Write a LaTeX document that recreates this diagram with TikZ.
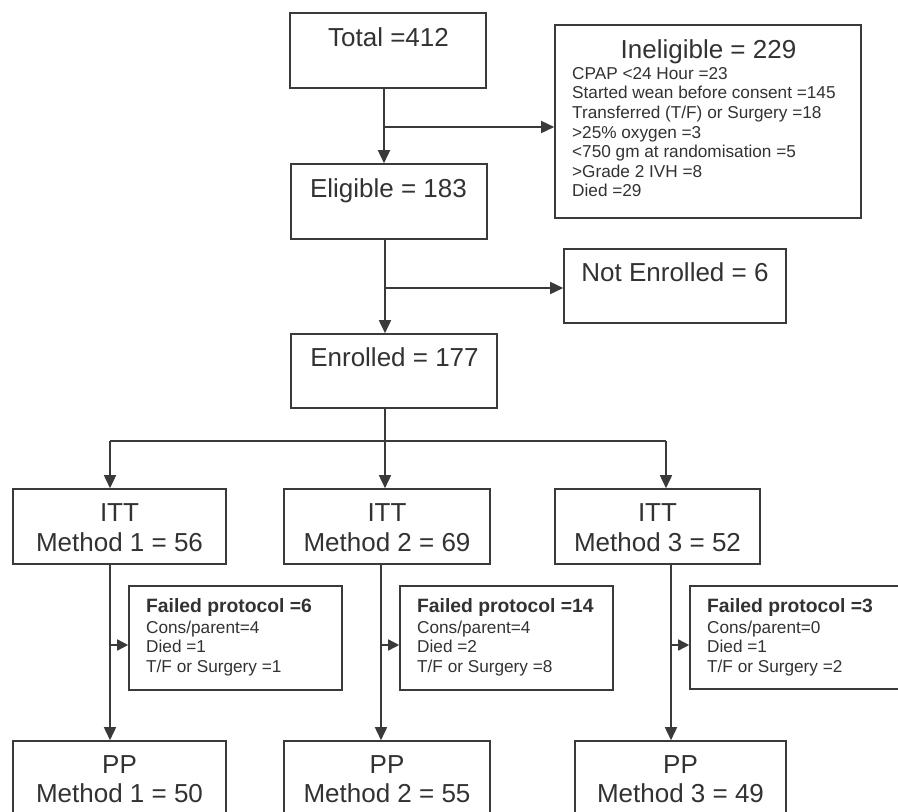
\documentclass[tikz,border=0pt]{standalone}
\usepackage{fontspec}
\setmainfont{Liberation Sans}
\usetikzlibrary{arrows.meta,calc,fit}
\definecolor{ink}{RGB}{50,50,50}
\definecolor{edge}{RGB}{58,58,58}
\begin{document}
\begin{tikzpicture}[x=1pt,y=-1pt,
  box/.style={draw=edge, line width=1.6pt, rectangle, inner sep=0pt},
  big/.style={text=ink, font=\fontsize{26}{30}\selectfont, inner sep=0pt, anchor=base},
  small/.style={text=ink, font=\fontsize{17.2}{20}\selectfont, inner sep=0pt, anchor=base west},
  boldtxt/.style={text=ink, font=\fontsize{19.3}{22}\selectfont\bfseries, inner sep=0pt, anchor=base west},
  conn/.style={draw=edge, line width=1.6pt},
  arr/.style={conn, -{Triangle[length=13pt,width=12pt]}},
  sidearr/.style={conn, -{Triangle[length=11pt,width=11pt]}}]
\useasboundingbox (0,0) rectangle (898,812);
\clip (0,0) rectangle (898,812);
\fill[white] (0,0) rectangle (898,812);

% boxes
\node[box, fit={(290,13) (486,88)}] (total) {};
\node[box, fit={(291,164) (487,239)}] (elig) {};
\node[box, fit={(555,25) (861,218)}] (inel) {};
\node[box, fit={(564,249) (786,323)}] (noten) {};
\node[box, fit={(291,334) (497,408)}] (enr) {};
\node[box, fit={(13,489) (226,564)}] (itt1) {};
\node[box, fit={(284,489) (490,564)}] (itt2) {};
\node[box, fit={(555,489) (760,564)}] (itt3) {};
\node[box, fit={(129,586) (342,690)}] (fail1) {};
\node[box, fit={(400,586) (613,690)}] (fail2) {};
\node[box, fit={(690,586) (915,689)}] (fail3) {};
\node[box, fit={(13,741) (226,830)}] (pp1) {};
\node[box, fit={(284,741) (490,830)}] (pp2) {};
\node[box, fit={(575,741) (786,830)}] (pp3) {};

% big texts
\node[big] (ttot) at (388.5,46) {Total =412};
\node[big] (telig) at (388.5,197) {Eligible = 183};
\node[big] (tinel) at (708.5,58.3) {Ineligible = 229};
\node[big] (tnoten) at (675,281) {Not Enrolled = 6};
\node[big] (tenr) at (394.5,366.7) {Enrolled = 177};
\node[big] (titt1a) at (119.5,521.7) {ITT};
\node[big] (titt1b) at (119.5,551.7) {Method 1 = 56};
\node[big] (titt2a) at (387,521.7) {ITT};
\node[big] (titt2b) at (387,551.7) {Method 2 = 69};
\node[big] (titt3a) at (657.5,521.7) {ITT};
\node[big] (titt3b) at (657.5,551.7) {Method 3 = 52};
\node[big] (tpp1a) at (119.5,773) {PP};
\node[big] (tpp1b) at (119.5,802) {Method 1 = 50};
\node[big] (tpp2a) at (387,773) {PP};
\node[big] (tpp2b) at (387,802) {Method 2 = 55};
\node[big] (tpp3a) at (680.5,773) {PP};
\node[big] (tpp3b) at (680.5,802) {Method 3 = 49};

% ineligible list
\foreach \t [count=\i] in {CPAP <24 Hour =23, Started wean before consent =145,
  Transferred (T/F) or Surgery =18, >25\% oxygen =3, <750 gm at randomisation =5,
  >Grade 2 IVH =8, Died =29}
  \node[small] (inl\i) at (572,{79.3+19.57*(\i-1)}) {\t};

% failed protocol texts
\foreach \x/\n/\a/\b/\c/\k in {146/6/4/1/1/1, 417/14/4/2/8/2, 707/3/0/1/2/3}{
  \node[boldtxt] (fh\k) at (\x,612.7) {Failed protocol =\n};
  \node[small] (fa\k) at (\x,633.3) {Cons/parent=\a};
  \node[small] (fb\k) at (\x,652.7) {Died =\b};
  \node[small] (fc\k) at (\x,672.3) {T/F or Surgery =\c};
}

% connectors
\coordinate (j1) at (384,127);
\draw[arr] (total.south -| j1) -- (elig.north -| j1);
\draw[arr] (j1) -- (inel.west |- j1);
\coordinate (j2) at (385,288);
\draw[arr] (elig.south -| j2) -- (enr.north -| j2);
\draw[arr] (j2) -- (noten.west |- j2);
\coordinate (j3) at (385,441);
\coordinate (l3) at (110,441);
\coordinate (r3) at (666,441);
\draw[conn] (enr.south -| j3) -- (j3);
\draw[conn] (l3) -- (r3);
\draw[arr] (l3) -- (itt1.north -| l3);
\draw[arr] (j3) -- (itt2.north -| j3);
\draw[arr] (r3) -- (itt3.north -| r3);
\coordinate (v1) at (110,645);
\coordinate (v2) at (381,645);
\coordinate (v3) at (671,645);
\draw[arr] (itt1.south -| v1) -- (pp1.north -| v1);
\draw[arr] (itt2.south -| v2) -- (pp2.north -| v2);
\draw[arr] (itt3.south -| v3) -- (pp3.north -| v3);
\draw[sidearr] (v1) -- (fail1.west |- v1);
\draw[sidearr] (v2) -- (fail2.west |- v2);
\draw[sidearr] (v3) -- (fail3.west |- v3);
\end{tikzpicture}
\end{document}
